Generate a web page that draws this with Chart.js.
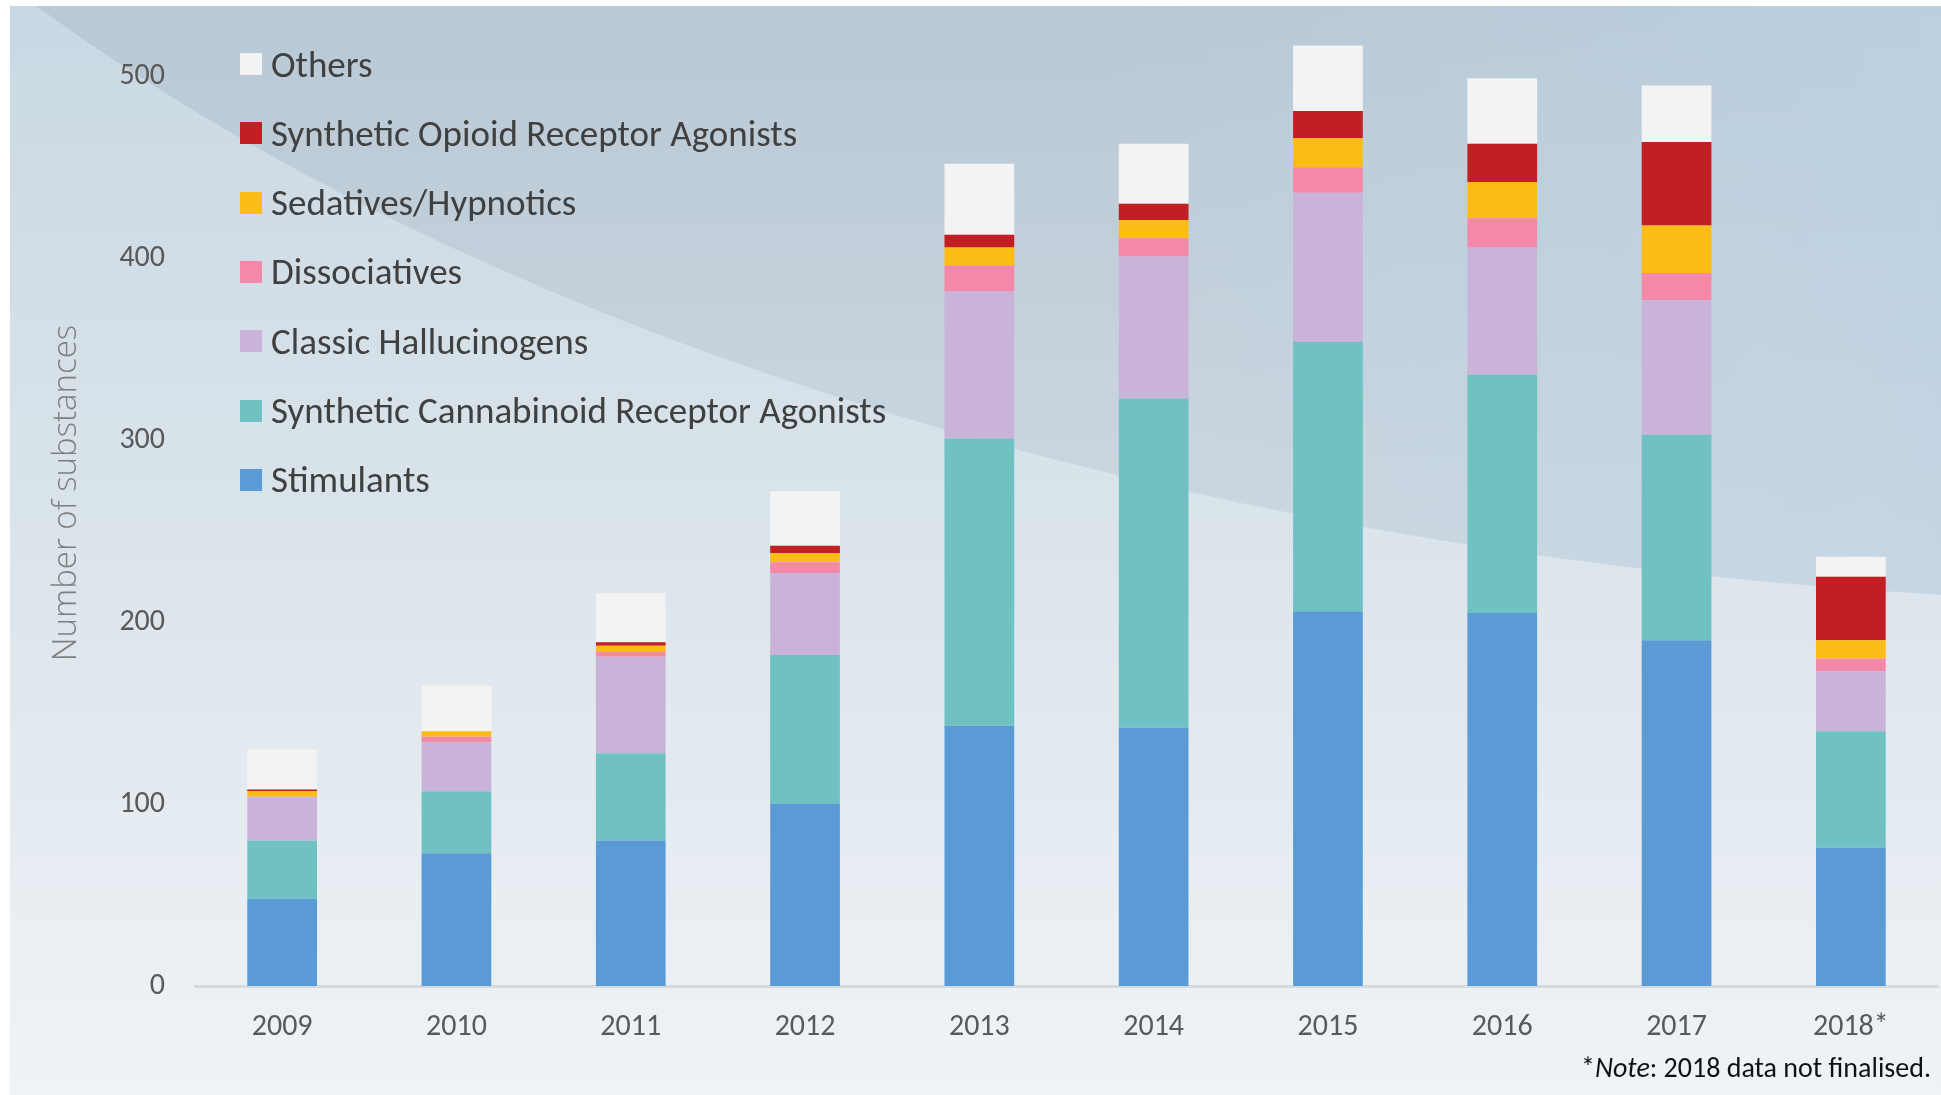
<!DOCTYPE html>
<html>
<head>
<meta charset="utf-8">
<script src="https://cdn.jsdelivr.net/npm/chart.js@4.4.1/dist/chart.umd.min.js"></script>
<style>
  html, body { margin: 0; padding: 0; background: #fff; }
  #wrap { position: relative; width: 1941px; height: 1095px; }
  #legend { position: absolute; left: 240px; top: 0; }
  .item { position: absolute; left: 0; height: 22px; display: flex; align-items: center; white-space: nowrap;
          font-family: Carlito, "Liberation Sans Narrow", Lato, sans-serif; font-size: 37px; color: #404040; }
  .box { width: 22px; height: 22px; margin-right: 9px; flex: none; }
  #note { position: absolute; right: 10px; top: 1050px; white-space: nowrap;
          font-family: Carlito, "Liberation Sans Narrow", Lato, sans-serif; font-size: 28px; color: #111; }
</style>
</head>
<body>
<div id="wrap">
  <canvas id="barChart" width="1941" height="1095"></canvas>
  <div id="legend"></div>
  <div id="note">*<i>Note</i>: 2018 data not finalised.</div>
</div>
<script>
// カテゴリ（年）
const years = ['2009', '2010', '2011', '2012', '2013', '2014', '2015', '2016', '2017', '2018*'];
// 系列ごとの物質数
const stimulants = [48, 73, 80, 100, 143, 142, 206, 205, 190, 76];
const cannabinoids = [32, 34, 48, 82, 158, 181, 148, 131, 113, 64];
const hallucinogens = [24, 27, 53, 45, 81, 78, 82, 70, 74, 33];
const dissociatives = [0, 3, 3, 6, 14, 10, 14, 16, 15, 7];
const sedatives = [3, 3, 3, 5, 10, 10, 16, 20, 26, 10];
const opioids = [1, 0, 2, 4, 7, 9, 15, 21, 46, 35];
const others = [22, 25, 27, 30, 39, 33, 36, 36, 31, 11];
// y軸の目盛り
const yTicks = [0, 100, 200, 300, 400, 500];

const seriesNames = ['Stimulants', 'Synthetic Cannabinoid Receptor Agonists', 'Classic Hallucinogens',
  'Dissociatives', 'Sedatives/Hypnotics', 'Synthetic Opioid Receptor Agonists', 'Others'];
const seriesData = [stimulants, cannabinoids, hallucinogens, dissociatives, sedatives, opioids, others];
const seriesColors = ['#5b9bd5', '#6fc1c2', '#c9b3d8', '#f388a8', '#fbbd14', '#c11f24', '#f3f3f3'];

const tickFont = { family: 'Carlito, "Liberation Sans Narrow", Lato, sans-serif', size: 30 };
const tickColor = '#595959';

// 背景（グラデーションと大きな弧）
const background = {
  id: 'background',
  beforeDraw(chart) {
    const c = chart.ctx;
    const w = chart.width, h = chart.height;
    c.save();
    c.fillStyle = '#ffffff';
    c.fillRect(0, 0, w, h);
    c.beginPath();
    c.rect(10, 6, w - 10, h - 6);
    c.clip();
    const g = c.createLinearGradient(0, 0, 0, h);
    g.addColorStop(0, '#c9d8e3');
    g.addColorStop(0.45, '#d9e3ea');
    g.addColorStop(1, '#eff3f6');
    c.fillStyle = g;
    c.fillRect(0, 0, w, h);
    // 右上の暗い弧
    c.beginPath();
    c.ellipse(2228, -867, 2724, 1470, 0, 0, Math.PI * 2);
    c.clip();
    const g2 = c.createLinearGradient(0, 0, 0, 600);
    g2.addColorStop(0, '#b8c8d5');
    g2.addColorStop(1, '#cfd9e1');
    c.fillStyle = g2;
    c.fillRect(0, 0, w, h);
    const g3 = c.createLinearGradient(1100, 0, w, 0);
    g3.addColorStop(0, 'rgba(190, 212, 230, 0)');
    g3.addColorStop(1, 'rgba(190, 212, 230, 0.6)');
    c.fillStyle = g3;
    c.fillRect(0, 0, w, h);
    c.restore();
  }
};

const ctx = document.getElementById('barChart').getContext('2d');

new Chart(ctx, {
  type: 'bar',
  data: {
    labels: years,
    datasets: seriesNames.map((name, i) => ({
      label: name,
      data: seriesData[i],
      backgroundColor: seriesColors[i],
      borderWidth: 0
    }))
  },
  options: {
    responsive: false,
    animation: false,
    layout: { padding: { top: 0, right: 3, bottom: 0, left: 0 } },
    datasets: { bar: { categoryPercentage: 0.4, barPercentage: 1 } },
    plugins: {
      legend: { display: false },
      tooltip: { enabled: false }
    },
    scales: {
      x: {
        stacked: true,
        grid: { display: false, drawTicks: false },
        border: { color: '#d5dade', width: 3 },
        ticks: { font: tickFont, color: tickColor, padding: 23 },
        afterFit: (s) => { s.height = 109; s.paddingLeft = 0; s.paddingRight = 0; }
      },
      y: {
        stacked: true,
        min: 0,
        max: 542,
        grid: { display: false, drawTicks: false },
        border: { display: false },
        afterBuildTicks: (s) => { s.ticks = yTicks.map(v => ({ value: v })); },
        ticks: { font: tickFont, color: tickColor, padding: 30 },
        title: {
          display: true,
          text: 'Number of substances',
          color: '#7f7f7f',
          font: { family: '"Open Sans", sans-serif', size: 33, weight: 300 },
          padding: { top: 47, bottom: 0 }
        },
        afterFit: (s) => { s.width = 195; s.paddingTop = 0; s.paddingBottom = 0; }
      }
    }
  },
  plugins: [background]
});

// 凡例（上から Others → Stimulants）
const legend = document.getElementById('legend');
for (let i = seriesNames.length - 1; i >= 0; i--) {
  const row = seriesNames.length - 1 - i;
  const item = document.createElement('div');
  item.className = 'item';
  item.style.top = (64 + 69.3 * row - 11) + 'px';
  item.innerHTML = '<span class="box" style="background:' + seriesColors[i] + '"></span>' + seriesNames[i];
  legend.appendChild(item);
}
</script>
</body>
</html>
